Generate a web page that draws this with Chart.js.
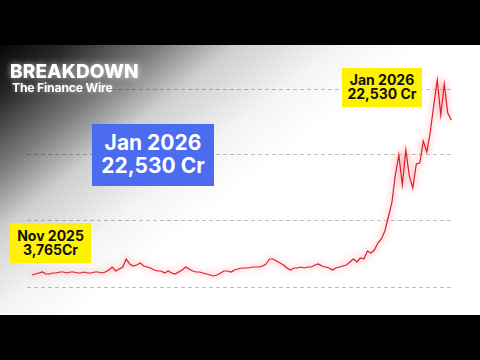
<!DOCTYPE html>
<html lang="en">
<head>
  <meta charset="UTF-8">
  <title>Breakdown</title>
  <script src="https://cdn.jsdelivr.net/npm/chart.js"></script>
  <style>
    * { box-sizing: border-box; margin: 0; padding: 0; }

    body {
      width: 480px;
      height: 360px;
      background: #000;
      overflow: hidden;
      font-family: 'Inter', 'Liberation Sans', sans-serif;
      position: relative;
    }

    .frame {
      position: absolute;
      left: 0;
      top: 45px;
      width: 480px;
      height: 270px;
      background: linear-gradient(142deg, #080808 0px, #262626 40px, #7e7e7e 100px, #cfcfcf 146px, #f4f4f4 210px, #fff 260px);
    }

    canvas { position: absolute; left: 0; top: 0; }

    .title {
      position: absolute;
      left: 10px;
      top: 17px;
      color: #fff;
      font-size: 19px;
      font-weight: 800;
      line-height: 19px;
      letter-spacing: 0.1px;
      text-shadow: 0 0 6px rgba(255, 255, 255, 0.7);
    }

    .subtitle {
      position: absolute;
      left: 12px;
      top: 36px;
      color: #fff;
      font-size: 12.2px;
      font-weight: 700;
      line-height: 13px;
      letter-spacing: -0.2px;
      text-shadow: 0 0 4px rgba(255, 255, 255, 0.5);
    }

    .tag {
      position: absolute;
      text-align: center;
      font-weight: 700;
    }

    .blue {
      left: 92px;
      top: 79px;
      width: 122px;
      height: 62px;
      background: #4b6cf1;
      color: #fff;
      font-size: 21px;
      line-height: 23px;
      padding-top: 7px;
    }

    .yellow {
      background: #fff200;
      color: #111;
      font-size: 14px;
      line-height: 14px;
    }

    .yellow.top { left: 342px; top: 23px; width: 80px; height: 39px; padding-top: 5px; }
    .yellow.low { left: 10px; top: 178px; width: 81px; height: 40px; padding-top: 6px; }
  </style>
</head>
<body>

<div class="frame">
  <canvas id="chart" width="480" height="270"></canvas>
  <div class="title">BREAKDOWN</div>
  <div class="subtitle">The Finance Wire</div>
  <div class="tag blue">Jan 2026<br>22,530 Cr</div>
  <div class="tag yellow top">Jan 2026<br>22,530 Cr</div>
  <div class="tag yellow low">Nov 2025<br>3,765Cr</div>
</div>

<script>
  // daily value, Cr
  const values = [
    3765, 3865, 3965, 4065, 3865, 3865, 3965, 3965, 4065, 4065,
    3965, 4065, 4065, 3965, 3965, 4065, 3965, 3965, 4065, 4065,
    3965, 4065, 4265, 4565, 4165, 4365, 4565, 5365, 4865, 4665,
    4765, 4965, 4665, 4565, 4465, 4265, 4165, 4165, 3965, 4165,
    3965, 3865, 4065, 4265, 4565, 4365, 4165, 4065, 4065, 3965,
    3865, 3765, 3665, 3765, 3965, 4165, 4165, 4065, 4265, 4365,
    4465, 4465, 4465, 4565, 4565, 4565, 4665, 4865, 5365, 5365,
    5165, 4965, 4765, 4465, 4265, 4465, 4465, 4565, 4465, 4565,
    4565, 4765, 4865, 4665, 4565, 4465, 4265, 4465, 4565, 4665,
    4765, 5065, 5365, 5065, 5465, 5365, 6165, 5965, 6265, 6965,
    7365, 8165, 9565, 10965, 13765, 15765, 12765, 16265, 13665, 12465,
    14865, 14965, 17165, 16065, 18065, 20765, 23265, 19765, 22865, 19965,
    19265
  ];
  const gridValues = [2565, 9165, 15765, 22365];

  const points = values.map((v, i) => ({ x: i, y: v }));

  const glow = {
    id: 'glow',
    beforeDatasetsDraw(chart) {
      const ctx = chart.ctx;
      ctx.save();
      ctx.shadowColor = 'rgba(255, 40, 50, 0.75)';
      ctx.shadowBlur = 7;
    },
    afterDatasetsDraw(chart) {
      chart.ctx.restore();
    }
  };

  new Chart(document.getElementById('chart'), {
    type: 'line',
    data: {
      datasets: [{
        data: points,
        borderColor: '#d91f2b',
        borderWidth: 1.2,
        pointRadius: 0,
        tension: 0
      }]
    },
    options: {
      responsive: false,
      animation: false,
      layout: { padding: { top: 25, bottom: 10, left: 27, right: 27 } },
      plugins: { legend: { display: false }, tooltip: { enabled: false } },
      scales: {
        x: { type: 'linear', display: false, min: -1.4, max: 120.5 },
        y: {
          min: 765,
          max: 24265,
          afterBuildTicks: (scale) => { scale.ticks = gridValues.map(v => ({ value: v })); },
          ticks: { display: false },
          grid: { color: 'rgba(0, 0, 0, 0.25)', drawTicks: false, lineWidth: 1 },
          border: { display: false, dash: [4, 3] }
        }
      }
    },
    plugins: [glow]
  });
</script>

</body>
</html>
